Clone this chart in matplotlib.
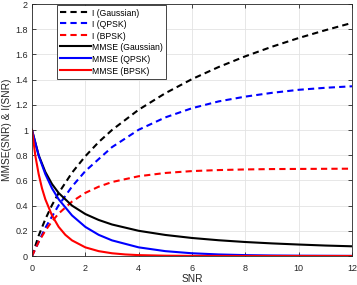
import matplotlib
matplotlib.use("Agg")
import matplotlib.pyplot as plt
from matplotlib.ticker import FuncFormatter

# values
snr_gauss = [0, 0.25, 0.5, 0.75, 1, 1.5, 2, 2.5, 3, 4, 5, 6, 7, 8, 9, 10, 11, 12]
i_gauss = [0, 0.161, 0.292, 0.404, 0.5, 0.661, 0.792, 0.904, 1.0, 1.161, 1.292,
           1.404, 1.5, 1.585, 1.661, 1.730, 1.792, 1.850]
mmse_gauss = [1, 0.8, 0.667, 0.571, 0.5, 0.4, 0.333, 0.286, 0.25, 0.2, 0.167,
              0.143, 0.125, 0.111, 0.1, 0.091, 0.083, 0.077]

snr_qpsk_i = [0, 0.5, 1, 1.5, 2, 3, 4, 5, 6, 7, 8, 9, 10, 11, 12]
i_qpsk = [0, 0.224, 0.403, 0.551, 0.674, 0.864, 1.002, 1.100, 1.173, 1.227,
          1.265, 1.295, 1.319, 1.335, 1.347]

snr_bpsk_i = [0, 0.25, 0.5, 0.75, 1, 1.5, 2, 2.5, 3, 4, 5, 6, 7, 8, 9, 10, 11, 12]
i_bpsk = [0, 0.112, 0.201, 0.275, 0.337, 0.432, 0.501, 0.550, 0.587, 0.633, 0.659,
          0.674, 0.682, 0.687, 0.690, 0.691, 0.692, 0.693]

snr_qpsk_m = [0, 0.25, 0.5, 0.75, 1, 1.5, 2, 2.5, 3, 4, 5, 6, 7, 8, 9, 10, 12]
mmse_qpsk = [1, 0.796, 0.650, 0.537, 0.450, 0.322, 0.231, 0.168, 0.124, 0.0686,
             0.0385, 0.0217, 0.0123, 0.0070, 0.0040, 0.0025, 0.0009]

snr_bpsk_m = [0, 0.125, 0.25, 0.375, 0.5, 0.75, 1, 1.25, 1.5, 2, 2.5, 3, 3.5, 4, 5, 6, 8, 12]
mmse_bpsk = [1, 0.796, 0.650, 0.537, 0.450, 0.322, 0.231, 0.168, 0.124, 0.0686,
             0.0385, 0.0217, 0.0123, 0.0070, 0.0025, 0.0009, 0.0001, 0]

plt.rcParams['font.family'] = ['Liberation Sans', 'DejaVu Sans']
fig = plt.figure(figsize=(3.57, 2.85), dpi=100)
ax = fig.add_axes([32 / 357, 29 / 285, 320 / 357, 252 / 285])

dash = (0, (3, 2))
ax.plot(snr_gauss, i_gauss, color='k', lw=1.5, ls=dash, label='I (Gaussian)')
ax.plot(snr_qpsk_i, i_qpsk, color='b', lw=1.5, ls=dash, label='I (QPSK)')
ax.plot(snr_bpsk_i, i_bpsk, color='r', lw=1.5, ls=dash, label='I (BPSK)')
ax.plot(snr_gauss, mmse_gauss, color='k', lw=1.5, label='MMSE (Gaussian)')
ax.plot(snr_qpsk_m, mmse_qpsk, color='b', lw=1.5, label='MMSE (QPSK)')
ax.plot(snr_bpsk_m, mmse_bpsk, color='r', lw=1.5, label='MMSE (BPSK)')

ax.set_xlim(0, 12)
ax.set_ylim(0, 2)
ax.set_xticks(range(0, 13, 2))
ax.set_yticks([i * 0.2 for i in range(11)])
ax.yaxis.set_major_formatter(FuncFormatter(lambda v, p: '%g' % round(v, 1)))
ax.grid(True, color='#e3e3e3', lw=0.6)
ax.set_axisbelow(True)
ax.tick_params(direction='in', length=3, width=0.6, colors='#262626',
               labelsize=6.5, top=True, right=True)
ax.tick_params(axis='x', pad=5.5)
ax.tick_params(axis='y', pad=3)
for s in ax.spines.values():
    s.set_color('#262626')
    s.set_linewidth(0.6)

ax.set_xlabel('SNR', fontsize=7.3, color='#262626', labelpad=1)
ax.set_ylabel('MMSE(SNR) & I(SNR)', fontsize=7.3, color='#262626', labelpad=2)

leg = ax.legend(loc='upper left', bbox_to_anchor=(0.078, 0.998), fontsize=6.2,
                handlelength=3.5, handletextpad=0.12, labelspacing=0.15,
                handleheight=1.45, borderaxespad=0, fancybox=False,
                framealpha=1, edgecolor='#262626', borderpad=0.4)
leg.get_frame().set_linewidth(0.6)

fig.savefig('out.png', dpi=100)
